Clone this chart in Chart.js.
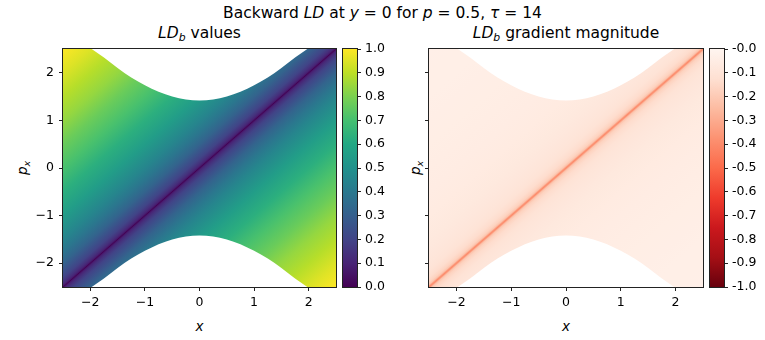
<!DOCTYPE html>
<html>
<head>
<meta charset="utf-8">
<script src="https://cdn.jsdelivr.net/npm/chart.js@4/dist/chart.umd.min.js"></script>
<style>
  body { margin: 0; background: #fff; }
  #fig { position: relative; width: 765px; height: 340px; font-family: 'DejaVu Sans', sans-serif; color: #000; }
  #fig canvas { position: absolute; top: 0; }
  .txt { position: absolute; text-align: center; white-space: nowrap; line-height: 16px; }
  .sub { font-size: 70%; position: relative; top: 3px; }
  .ylab { position: absolute; transform: translate(-50%, -50%) rotate(-90deg); font-size: 13.5px; font-style: italic; white-space: nowrap; }
</style>
</head>
<body>
<div id="fig">
  <div class="txt" style="left:0;width:765px;top:5px;font-size:15.5px;">Backward <i>LD</i> at <i>y</i> = 0 for <i>p</i> = 0.5, <i>τ</i> = 14</div>
  <div class="txt" style="left:63px;width:273px;top:25px;font-size:15.5px;"><i>LD<span class="sub">b</span></i> values</div>
  <div class="txt" style="left:429px;width:274px;top:25px;font-size:15.5px;"><i>LD<span class="sub">b</span></i> gradient magnitude</div>
  <div class="txt" style="left:63px;width:273px;top:318px;font-size:13.5px;"><i>x</i></div>
  <div class="txt" style="left:429px;width:274px;top:318px;font-size:13.5px;"><i>x</i></div>
  <div class="ylab" style="left:22px;top:168px;">p<span class="sub">x</span></div>
  <div class="ylab" style="left:415px;top:168px;">p<span class="sub">x</span></div>

  <canvas id="ldChart" width="340" height="340" style="left:0"></canvas>
  <canvas id="ldBar" width="60" height="340" style="left:340px"></canvas>
  <canvas id="gradChart" width="310" height="340" style="left:400px"></canvas>
  <canvas id="gradBar" width="58" height="340" style="left:707px"></canvas>
</div>
<script>
// values: both fields change only across the diagonal p = x
const diagDist = [0, 0.02, 0.05, 0.1, 0.2, 0.35, 0.5, 0.75, 1, 1.5, 2, 2.5, 3, 3.5, 4, 4.5, 5];
const ldValues = [0.0, 0.06, 0.10, 0.14, 0.2, 0.26, 0.32, 0.39, 0.45, 0.55, 0.63, 0.71, 0.77, 0.84, 0.89, 0.95, 1.0];
const gradValues = [-0.40, -0.34, -0.22, -0.17, -0.135, -0.11, -0.095, -0.082, -0.073, -0.062, -0.055, -0.048, -0.044, -0.041, -0.038, -0.036, -0.034];

// edge of the region that has values (white outside)
const edgeX = [-2.5, -2.25, -2, -1.75, -1.5, -1.25, -1, -0.75, -0.5, -0.25, 0, 0.25, 0.5, 0.75, 1, 1.25, 1.5, 1.75, 2, 2.25, 2.5];
const edgeUpper = [2.92, 2.72, 2.52, 2.32, 2.1, 1.9, 1.74, 1.6, 1.5, 1.44, 1.42, 1.44, 1.5, 1.6, 1.74, 1.9, 2.1, 2.32, 2.52, 2.72, 2.92];
const edgeLower = [-2.92, -2.72, -2.52, -2.32, -2.1, -1.9, -1.74, -1.6, -1.5, -1.44, -1.42, -1.44, -1.5, -1.6, -1.74, -1.9, -2.1, -2.32, -2.52, -2.72, -2.92];

const axisTicks = [-2, -1, 0, 1, 2];
const ldTicks = [0, 0.1, 0.2, 0.3, 0.4, 0.5, 0.6, 0.7, 0.8, 0.9, 1.0];
const gradTicks = [0, -0.1, -0.2, -0.3, -0.4, -0.5, -0.6, -0.7, -0.8, -0.9, -1.0];

// colormaps
const viridis = ['#440154', '#482475', '#414487', '#355f8d', '#2a788e', '#21918c', '#22a884', '#44bf70', '#7ad151', '#bddf26', '#fde725'];
const reds = ['#fff5f0', '#fee0d2', '#fcbba1', '#fc9272', '#fb6a4a', '#ef3b2c', '#cb181d', '#a50f15', '#67000d'];

function hexRgb(h) {
    return [1, 3, 5].map(i => parseInt(h.slice(i, i + 2), 16));
}
function cmap(stops, t) {
    t = Math.min(1, Math.max(0, t));
    const f = t * (stops.length - 1);
    const i = Math.min(stops.length - 2, Math.floor(f));
    const a = hexRgb(stops[i]), b = hexRgb(stops[i + 1]);
    const u = f - i;
    const c = a.map((v, k) => Math.round(v + (b[k] - v) * u));
    return `rgb(${c[0]},${c[1]},${c[2]})`;
}
const ldColor = v => cmap(viridis, v);
const gradColor = v => cmap(reds, -v);

Chart.defaults.font.family = "'DejaVu Sans', sans-serif";
Chart.defaults.font.size = 12.5;
Chart.defaults.color = '#000';

const fmtAxis = v => (v < 0 ? '\u2212' + Math.abs(v) : String(v));

// paints the field as a gradient across the diagonal, positioned from the scales
function fieldPlugin(values, colorOf) {
    return {
        id: 'field',
        beforeDatasetsDraw(chart) {
            const { ctx, chartArea: a, scales: { x, y } } = chart;
            const ax = x.getPixelForValue(1) - x.getPixelForValue(0);
            const ay = y.getPixelForValue(0) - y.getPixelForValue(1);
            const cx = x.getPixelForValue(0), cy = y.getPixelForValue(0);
            const gx = 1 / ax, gy = 1 / ay, g2 = gx * gx + gy * gy;
            const dMax = diagDist[diagDist.length - 1];
            const grad = ctx.createLinearGradient(cx - dMax * gx / g2, cy - dMax * gy / g2,
                                                  cx + dMax * gx / g2, cy + dMax * gy / g2);
            diagDist.forEach((d, i) => {
                const c = colorOf(values[i]);
                grad.addColorStop((dMax - d) / (2 * dMax), c);
                grad.addColorStop((dMax + d) / (2 * dMax), c);
            });
            ctx.save();
            ctx.fillStyle = grad;
            ctx.fillRect(a.left, a.top, a.right - a.left, a.bottom - a.top);
            ctx.restore();
        }
    };
}

const frame = {
    id: 'frame',
    afterDraw(chart) {
        const { ctx, chartArea: a } = chart;
        ctx.save();
        ctx.strokeStyle = '#222';
        ctx.lineWidth = 1;
        const l = Math.round(a.left) - 0.5, t = Math.round(a.top) - 0.5;
        ctx.strokeRect(l, t, Math.round(a.right) - Math.round(a.left) + 1, Math.round(a.bottom) - Math.round(a.top) + 1);
        ctx.restore();
    }
};

function barPlugin(stops) {
    return {
        id: 'bar',
        beforeDraw(chart) {
            const { ctx, chartArea: a } = chart;
            const g = ctx.createLinearGradient(0, a.bottom, 0, a.top);
            stops.forEach((c, i) => g.addColorStop(i / (stops.length - 1), c));
            ctx.save();
            ctx.fillStyle = g;
            ctx.fillRect(a.left, a.top, a.right - a.left, a.bottom - a.top);
            ctx.restore();
        }
    };
}

const tickGrid = { drawOnChartArea: false, drawTicks: true, tickLength: 4, color: '#222', lineWidth: 1 };

function makePanel(id, values, colorOf, yWidth, padRight, showYLabels) {
    const upper = edgeX.map((x, i) => ({ x, y: edgeUpper[i] }));
    const lower = edgeX.map((x, i) => ({ x, y: edgeLower[i] }));
    return new Chart(document.getElementById(id), {
        type: 'line',
        data: {
            datasets: [{
                data: upper,
                fill: 'end',
                backgroundColor: '#ffffff',
                borderWidth: 0,
                pointRadius: 0,
                cubicInterpolationMode: 'monotone'
            }, {
                data: lower,
                fill: 'start',
                backgroundColor: '#ffffff',
                borderWidth: 0,
                pointRadius: 0,
                cubicInterpolationMode: 'monotone'
            }]
        },
        options: {
            responsive: false,
            animation: false,
            devicePixelRatio: 1,
            layout: { padding: { top: 49, right: padRight, left: 0, bottom: 0 } },
            plugins: { legend: { display: false }, tooltip: { enabled: false } },
            scales: {
                x: {
                    type: 'linear',
                    min: -2.5,
                    max: 2.5,
                    afterBuildTicks: s => { s.ticks = axisTicks.map(v => ({ value: v })); },
                    afterFit: s => { s.height = 53; },
                    ticks: { callback: fmtAxis, padding: 4, maxRotation: 0, autoSkip: false },
                    grid: tickGrid,
                    border: { display: false }
                },
                y: {
                    type: 'linear',
                    min: -2.5,
                    max: 2.5,
                    afterBuildTicks: s => { s.ticks = axisTicks.map(v => ({ value: v })); },
                    afterFit: s => { s.width = yWidth; },
                    ticks: { callback: v => (showYLabels ? fmtAxis(v) : ''), padding: 5, autoSkip: false },
                    grid: tickGrid,
                    border: { display: false }
                }
            }
        },
        plugins: [fieldPlugin(values, colorOf), frame]
    });
}

function makeBar(id, ticks, stops, yWidth, fmt) {
    const lo = Math.min(...ticks), hi = Math.max(...ticks);
    return new Chart(document.getElementById(id), {
        type: 'scatter',
        data: { datasets: [] },
        options: {
            responsive: false,
            animation: false,
            devicePixelRatio: 1,
            layout: { padding: { top: 49, bottom: 53, left: 3, right: 0 } },
            plugins: { legend: { display: false }, tooltip: { enabled: false } },
            scales: {
                x: { display: false, min: 0, max: 1 },
                y: {
                    position: 'right',
                    min: lo,
                    max: hi,
                    afterBuildTicks: s => { s.ticks = ticks.map(v => ({ value: v })); },
                    afterFit: s => { s.width = yWidth; },
                    ticks: { callback: fmt, padding: 4, autoSkip: false },
                    grid: tickGrid,
                    border: { display: false }
                }
            }
        },
        plugins: [barPlugin(stops), frame]
    });
}

makePanel('ldChart', ldValues, ldColor, 63, 4, true);
makePanel('gradChart', gradValues, gradColor, 29, 7, false);
makeBar('ldBar', ldTicks, viridis, 43, v => v.toFixed(1));
makeBar('gradBar', gradTicks, reds.slice().reverse(), 41, v => '-' + Math.abs(v).toFixed(1));
</script>
</body>
</html>
